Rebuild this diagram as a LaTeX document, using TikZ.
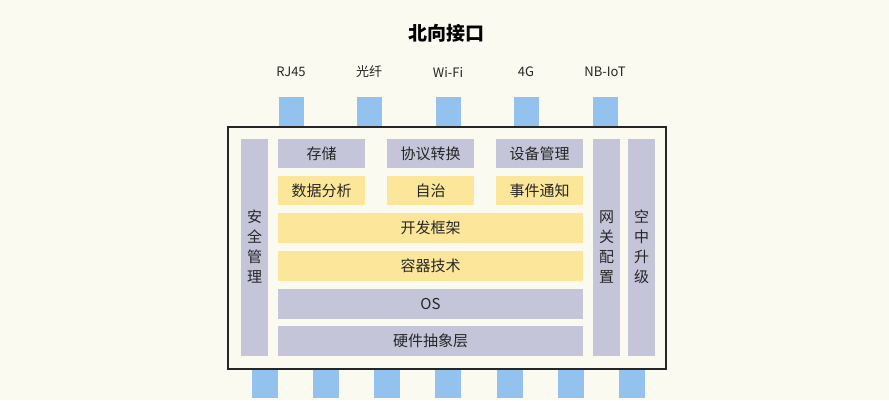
\documentclass[tikz,border=0pt]{standalone}
\usepackage{fontspec}
\setmainfont{Noto Sans CJK SC}
\begin{document}
\begin{tikzpicture}[x=1pt,y=-1pt,
  lav/.style={fill=lavc,draw=none},
  yel/.style={fill=yelc,draw=none},
  pin/.style={fill=pinc,draw=none},
  lbl/.style={font=\fontsize{14}{16}\selectfont,text=black!85}]
\definecolor{bgc}{HTML}{FBFAF0}
\definecolor{lavc}{HTML}{C5C5DA}
\definecolor{yelc}{HTML}{FBE69A}
\definecolor{pinc}{HTML}{94C2EE}
\fill[bgc] (0,0) rectangle (889,400);
\useasboundingbox (0,0) rectangle (889,400);
\node[font=\fontsize{19}{22}\selectfont\bfseries] (title) at (446,33) {北向接口};
\foreach \x/\t [count=\i] in {291/RJ45,369/光纤,448/Wi-Fi,526/4G,605/NB-IoT}{
  \node[lbl,font=\fontsize{13}{15}\selectfont] (l\i) at (\x,72) {\t};
  \fill[pinc] (\x-12.5,97) rectangle (\x+12.5,127);
}
\foreach \x in {252,313,374,435,497,558,619}{
  \fill[pinc] (\x,369) rectangle (\x+26,398);
}
\draw[line width=1.6pt,draw=black!85,fill=bgc] (228,127) rectangle (666,369);
\foreach \x/\t/\n in {241/{安\\全\\管\\理}/aq,593/{网\\关\\配\\置}/wg,628/{空\\中\\升\\级}/kz}{
  \fill[lavc] (\x,139) rectangle (\x+27,356);
  \node[lbl,align=center,font=\fontsize{15}{20}\selectfont] (\n) at (\x+13.5,247) {\t};
}
\foreach \x/\t/\n in {278/存储/a,387/协议转换/b,496/设备管理/c}{
  \fill[lavc] (\x,139) rectangle (\x+87,168);
  \node[lbl,font=\fontsize{15}{18}\selectfont] (\n) at (\x+43.5,153.5) {\t};
}
\foreach \x/\t/\n in {278/数据分析/d,387/自治/监控/e,496/事件通知/f}{
  \fill[yelc] (\x,176) rectangle (\x+87,205);
  \node[lbl,font=\fontsize{15}{18}\selectfont] (\n) at (\x+43.5,190.5) {\t};
}
\foreach \y/\t/\c/\n in {213/开发框架/yelc/g,251/容器技术/yelc/h,289/OS/lavc/i,326/硬件抽象层/lavc/j}{
  \fill[\c] (278,\y) rectangle (583,\y+30);
  \node[lbl,font=\fontsize{15}{18}\selectfont] (\n) at (430.5,\y+15) {\t};
}
\end{tikzpicture}
\end{document}
